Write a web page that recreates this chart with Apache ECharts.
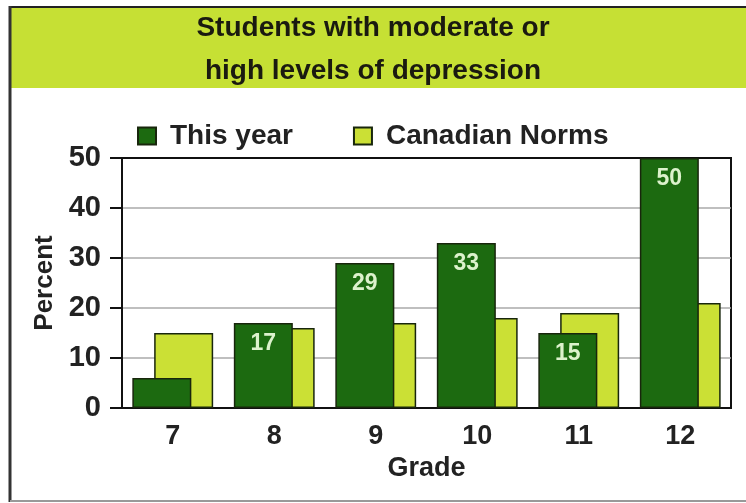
<!DOCTYPE html>
<html>
<head>
<meta charset="utf-8">
<style>html,body{margin:0;padding:0;background:#fff;}#c{width:746px;height:503px;}</style>
<script src="https://cdn.jsdelivr.net/npm/echarts@6/dist/echarts.min.js"></script>
</head>
<body>
<div id="c"></div>
<script>
const titleText = "Students with moderate or\nhigh levels of depression";
const grades = ["7", "8", "9", "10", "11", "12"];
const thisYear = [6, 17, 29, 33, 15, 50];
const canadianNorms = [15, 16, 17, 18, 19, 21];
const seriesNames = ["This year", "Canadian Norms"];
const yTicks = { min: 0, max: 50, interval: 10 };
const xName = "Grade";
const yName = "Percent";

const FONT = '"Liberation Sans", Arial, sans-serif';
const DARK = '#1c6a10';
const LIME = '#cbe035';
const EDGE = '#18260c';

const chart = echarts.init(document.getElementById('c'), null, { renderer: 'canvas' });
chart.setOption({
  backgroundColor: '#fff',
  animation: false,
  graphic: [
    { type: 'rect', shape: { x: 11, y: 8, width: 735, height: 80 }, style: { fill: '#c6e034' }, z: -10 },
    { type: 'line', shape: { x1: 10, y1: 7, x2: 746, y2: 7 }, style: { stroke: '#222', lineWidth: 2 }, z: -5 },
    { type: 'line', shape: { x1: 10, y1: 6, x2: 10, y2: 502 }, style: { stroke: '#333', lineWidth: 3 }, z: -5 },
    { type: 'line', shape: { x1: 10, y1: 501, x2: 746, y2: 501 }, style: { stroke: '#999', lineWidth: 2 }, z: -5 }
  ],
  title: {
    text: titleText,
    left: 'center',
    top: 2,
    textStyle: { fontFamily: FONT, fontWeight: 'bold', fontSize: 28, lineHeight: 43, color: '#1a1a10' }
  },
  legend: {
    data: seriesNames,
    left: 132,
    top: 117,
    icon: 'rect',
    itemWidth: 18,
    itemHeight: 17,
    itemGap: 60,
    textStyle: { fontFamily: FONT, fontWeight: 'bold', fontSize: 28, color: '#222', padding: [0, 0, 0, 9] }
  },
  grid: { left: 122, right: 15, top: 158, bottom: 95, show: true, borderColor: '#111', borderWidth: 2 },
  xAxis: {
    type: 'category',
    data: grades,
    name: xName,
    nameLocation: 'middle',
    nameGap: 47,
    nameTextStyle: { fontFamily: FONT, fontWeight: 'bold', fontSize: 27, color: '#222' },
    axisLine: { lineStyle: { color: '#111', width: 2 } },
    axisTick: { show: false },
    axisLabel: { margin: 15, fontFamily: FONT, fontWeight: 'bold', fontSize: 27, color: '#222' }
  },
  yAxis: {
    type: 'value',
    min: yTicks.min,
    max: yTicks.max,
    interval: yTicks.interval,
    name: yName,
    nameLocation: 'middle',
    nameGap: 64,
    nameRotate: 90,
    nameTextStyle: { fontFamily: FONT, fontWeight: 'bold', fontSize: 26, color: '#222' },
    axisLine: { show: true, lineStyle: { color: '#111', width: 2 } },
    axisTick: { show: true, length: 12, lineStyle: { color: '#111', width: 2 } },
    axisLabel: { margin: 21, fontFamily: FONT, fontWeight: 'bold', fontSize: 29, color: '#222' },
    splitLine: { show: true, lineStyle: { color: ['#aaa', '#aaa', '#aaa', '#aaa', '#aaa', '#111'], width: 1.5 } }
  },
  series: [
    {
      name: seriesNames[0],
      type: 'bar',
      data: thisYear,
      barWidth: 59,
      barGap: '-63%',
      z: 3,
      itemStyle: { color: DARK, borderColor: EDGE, borderWidth: 1.5 },
      label: {
        show: true,
        position: 'insideTop',
        distance: 9,
        fontFamily: FONT,
        fontWeight: 'bold',
        fontSize: 23,
        color: '#dcf2cc',
        formatter: p => (p.value >= 10 ? String(p.value) : '')
      }
    },
    {
      name: seriesNames[1],
      type: 'bar',
      data: canadianNorms,
      barWidth: 59,
      z: 2,
      itemStyle: { color: LIME, borderColor: EDGE, borderWidth: 1.5 }
    }
  ]
});
</script>
</body>
</html>
